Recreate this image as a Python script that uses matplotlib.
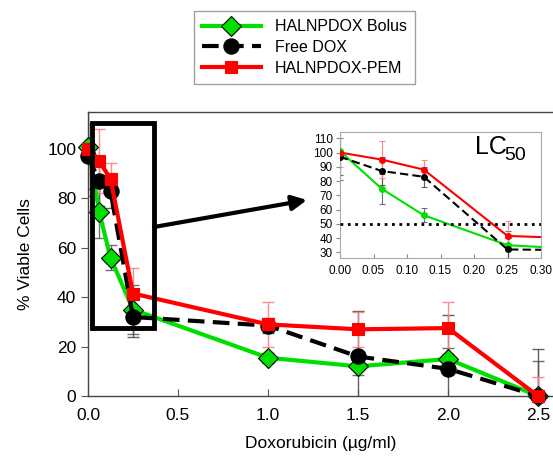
import matplotlib
matplotlib.use('Agg')
import matplotlib.pyplot as plt
from matplotlib.patches import Rectangle
from matplotlib.ticker import FormatStrFormatter

plt.rcParams['font.family'] = ['Liberation Sans', 'DejaVu Sans']

# Datos
dosis = [0, 0.0625, 0.125, 0.25, 1.0, 1.5, 2.0, 2.5]
bolus = [101, 74.5, 56, 35, 15.5, 12, 15, 0]
bolus_err = [20, 10.5, 5, 10, 2, 3.5, 4.5, 14]
free_dox = [97, 87, 83, 32, 28.5, 16, 11, 0]
free_dox_err = [13, 10, 7, 8, 3, 18.5, 22, 19]
pem = [100, 95, 88, 41.5, 29, 27, 27.5, 0]
pem_err = [10, 13, 6.5, 10.5, 9, 7, 10.5, 7.5]

series = [
    ('HALNPDOX Bolus', bolus, bolus_err, '#00e000', 'D', '-', '#606060'),
    ('Free DOX', free_dox, free_dox_err, 'black', 'o', '--', '#505050'),
    ('HALNPDOX-PEM', pem, pem_err, '#ff0000', 's', '-', '#ff8080'),
]
msize = {'D': 10, 'o': 11, 's': 8.5}

fig = plt.figure(figsize=(5.53, 4.62), dpi=100)
ax = fig.add_axes([88 / 553, 66 / 462, 465 / 553, 284 / 462])

handles = []
for nombre, y, err, color, mk, ls, ecol in series:
    ax.errorbar(dosis, y, yerr=err, fmt='none', ecolor=ecol, elinewidth=1,
                capsize=4, capthick=1, alpha=0.9, zorder=2)
    h, = ax.plot(dosis, y, color=color, ls=ls, lw=3, marker=mk,
                 ms=msize[mk], mfc=color, mec='black' if mk == 'D' else color,
                 mew=0.8, label=nombre, zorder=3, clip_on=False,
                 dashes=(4, 2) if ls == '--' else (None, None))
    handles.append(h)

ax.set_xlim(0, 465 / 180)
ax.set_ylim(0, 115)
ax.set_xticks([0, 0.5, 1.0, 1.5, 2.0, 2.5])
ax.set_yticks([0, 20, 40, 60, 80, 100])
ax.xaxis.set_major_formatter(FormatStrFormatter('%.1f'))
ax.tick_params(axis='x', direction='in', length=5, color='#555555', labelsize=12.5, pad=9)
ax.tick_params(axis='y', direction='out', length=5, color='#555555', labelsize=12.5)
for s in ['left', 'bottom', 'top']:
    ax.spines[s].set_color('#444444')
    ax.spines[s].set_linewidth(1)
ax.spines['right'].set_visible(False)
ax.set_xlabel('Doxorubicin (µg/ml)', fontsize=12.5, labelpad=9)
ax.set_ylabel('% Viable Cells', fontsize=12.5, labelpad=10)

# Recuadro de la zona ampliada
ax.add_patch(Rectangle((0.022, 27.5), 0.345, 83, fill=False, lw=3.5,
                       ec='black', zorder=5, clip_on=False))

# Flecha hacia el detalle
ax.annotate('', xy=(307, 262), xycoords='figure pixels',
            xytext=(154, 235), textcoords='figure pixels',
            arrowprops=dict(arrowstyle='-|>', lw=3, color='black',
                            mutation_scale=22, shrinkA=0, shrinkB=0))

# Grafico de detalle
axi = fig.add_axes([340 / 553, 203.7 / 462, 201 / 553, 126.6 / 462])
for nombre, y, err, color, mk, ls, ecol in series:
    axi.errorbar(dosis, y, yerr=err, fmt='none', ecolor=ecol, elinewidth=0.8,
                 capsize=2, capthick=0.8, alpha=0.9, zorder=2)
    axi.plot(dosis, y, color=color, ls=ls, lw=1.5, marker='o', ms=4,
             mfc=color, mec=color, zorder=3,
             dashes=(4, 2) if ls == '--' else (None, None))
axi.axhline(50, ls=':', lw=2, color='black', zorder=4)
axi.set_xlim(0, 0.30)
axi.set_ylim(25.8, 114.6)
axi.set_xticks([0, 0.05, 0.10, 0.15, 0.20, 0.25, 0.30])
axi.set_yticks(range(30, 111, 10))
axi.xaxis.set_major_formatter(FormatStrFormatter('%.2f'))
axi.tick_params(axis='x', direction='in', length=3, color='#888888', labelsize=8.5, pad=5)
axi.tick_params(axis='y', direction='out', length=3, color='#888888', labelsize=8.5, pad=2)
for s in axi.spines.values():
    s.set_color('#aaaaaa')
    s.set_linewidth(0.8)
axi.text(0.67, 0.82, 'LC', transform=axi.transAxes, fontsize=18,
         ha='left', va='baseline')
axi.text(0.815, 0.775, '50', transform=axi.transAxes, fontsize=14,
         ha='left', va='baseline')

fig.legend(handles=handles, loc='center', bbox_to_anchor=(304.5 / 553, 1 - 47.5 / 462),
           fontsize=11.5, frameon=True, fancybox=False, edgecolor='#888888',
           handlelength=3.7, handletextpad=0.9, labelspacing=0.35, borderpad=0.5)

fig.savefig('out.png', dpi=100)
